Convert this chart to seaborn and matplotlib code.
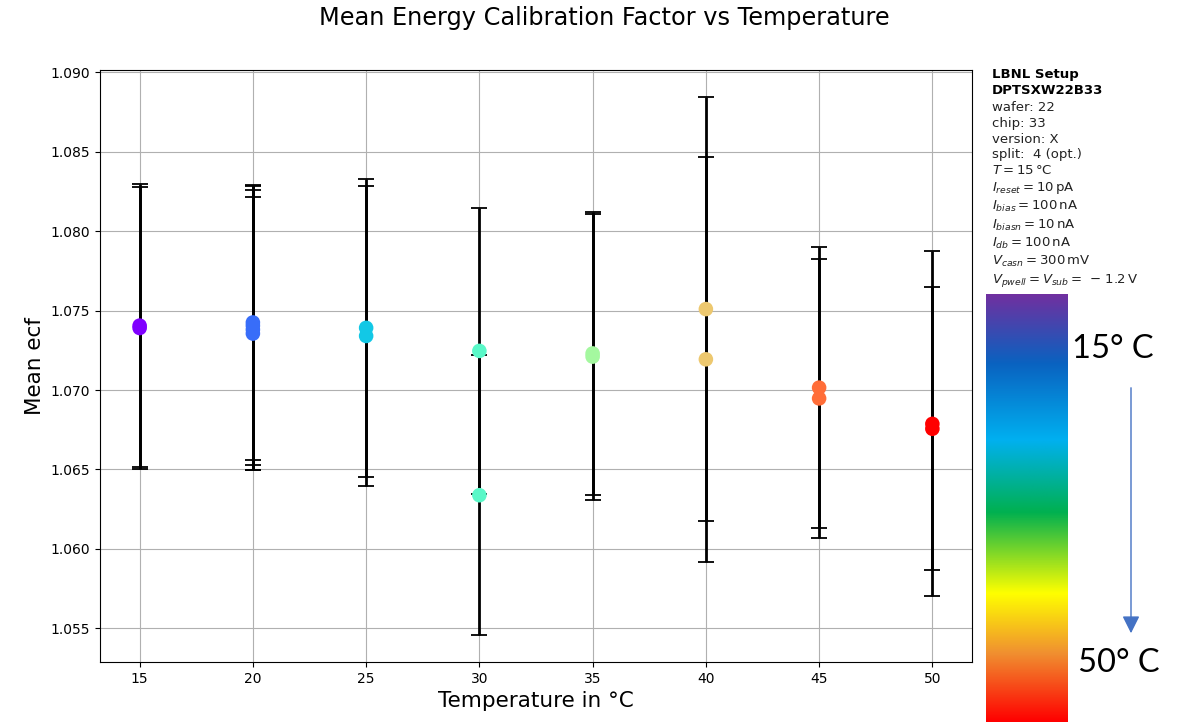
import numpy as np
import pandas as pd
import matplotlib
matplotlib.use("Agg")
import matplotlib.pyplot as plt
from matplotlib.colors import LinearSegmentedColormap
import seaborn as sns

# ---- data ----
temperatures = [15, 15, 20, 20, 20, 20, 25, 25, 30, 30, 35, 35, 40, 40, 45, 45, 50, 50]
mean_ecf = [1.07405, 1.0739, 1.07425, 1.07405, 1.0738, 1.07355, 1.07391, 1.0734,
            1.07246, 1.06338, 1.0723, 1.0721, 1.07509, 1.07193, 1.07015, 1.06947,
            1.06787, 1.06756]
ecf_err = [0.0089, 0.0089, 0.00864, 0.00878, 0.00881, 0.00857, 0.00937, 0.00942,
           0.0090, 0.0088, 0.0089, 0.0090, 0.01335, 0.01274, 0.00886, 0.00877,
           0.01085, 0.0089]
temp_levels = [15, 20, 25, 30, 35, 40, 45, 50]
xtick_labels = ["15", "20", "25", "30", "35", "40", "45", "50"]

info_bold = ["LBNL Setup", "DPTSXW22B33"]
info_lines = ["wafer: 22", "chip: 33", "version: X", "split:  4 (opt.)",
              r"$T=15\,\mathrm{°C}$",
              r"$I_{reset}=10\,\mathrm{pA}$",
              r"$I_{bias}=100\,\mathrm{nA}$",
              r"$I_{biasn}=10\,\mathrm{nA}$",
              r"$I_{db}=100\,\mathrm{nA}$",
              r"$V_{casn}=300\,\mathrm{mV}$",
              r"$V_{pwell}=V_{sub}=\,-\,1.2\,\mathrm{V}$"]

df = pd.DataFrame({"temperature": temperatures, "ecf": mean_ecf, "err": ecf_err})

sns.set_style("ticks")
plt.rcParams["font.family"] = ["DejaVu Sans"]
plt.rcParams["mathtext.fontset"] = "dejavusans"
plt.rcParams["text.color"] = "black"
plt.rcParams["axes.labelcolor"] = "black"

cmap = plt.get_cmap("rainbow")
palette = {t: cmap(i / (len(temp_levels) - 1)) for i, t in enumerate(temp_levels)}

fig = plt.figure(figsize=(11.83, 7.22), dpi=100)
ax = fig.add_axes([100 / 1183, 60 / 722, 872 / 1183, 592 / 722])

ax.errorbar(df["temperature"], df["ecf"], yerr=df["err"], fmt="none",
            ecolor="black", elinewidth=2, capsize=5.5, capthick=1.3, zorder=2)
sns.scatterplot(data=df, x="temperature", y="ecf", hue="temperature",
                palette=palette, s=110, edgecolor="none", legend=False,
                ax=ax, zorder=3)

ax.set_xticks(temp_levels)
ax.set_xticklabels(xtick_labels)
ax.set_yticks([1.055, 1.060, 1.065, 1.070, 1.075, 1.080, 1.085, 1.090])
ax.yaxis.set_major_formatter(matplotlib.ticker.FormatStrFormatter("%.3f"))
ax.tick_params(labelsize=10, length=3.5, width=0.8, direction="out",
               colors="black", labelcolor="black")
ax.grid(True, color="#b0b0b0", linewidth=0.8)
ax.set_axisbelow(True)
for sp in ax.spines.values():
    sp.set_visible(True)
    sp.set_color("black")
    sp.set_linewidth(0.8)
ax.set_xlabel("Temperature in °C", fontsize=15.5, color="black")
ax.set_ylabel("Mean ecf", fontsize=15.5, color="black")
ax.margins(x=0.05, y=0.05)

fig.text(604 / 1183, 1 - 18 / 722, "Mean Energy Calibration Factor vs Temperature",
         ha="center", va="center", fontsize=17.3, color="black")

fig.text(992 / 1183, 1 - 68 / 722, "\n".join(info_bold), ha="left", va="top",
         fontsize=9.5, fontweight="bold", linespacing=1.25, color="black")
fig.text(992 / 1183, 1 - 101 / 722, "\n".join(info_lines), ha="left", va="top",
         fontsize=9.5, linespacing=1.28, color="#222222")

# temperature colour scale (pasted gradient)
grad_cmap = LinearSegmentedColormap.from_list(
    "grad", [(0.0, "#7030a0"), (0.16, "#0a62c0"), (0.34, "#00b0f0"),
             (0.51, "#00b050"), (0.70, "#ffff00"), (0.84, "#f09030"),
             (1.0, "#ff0000")])
cax = fig.add_axes([986 / 1183, 0, 82 / 1183, 428 / 722])
cax.imshow(np.linspace(0, 1, 256).reshape(-1, 1), cmap=grad_cmap, aspect="auto")
cax.axis("off")

fig.text(1072 / 1183, 1 - 349 / 722, "15° C", ha="left", va="center",
         fontsize=23.5, family=["Lato", "DejaVu Sans"], color="black")
fig.text(1078 / 1183, 1 - 663 / 722, "50° C", ha="left", va="center",
         fontsize=23.5, family=["Lato", "DejaVu Sans"], color="black")
fig.patches.append(matplotlib.patches.FancyArrowPatch(
    (1131 / 1183, 1 - 385 / 722), (1131 / 1183, 1 - 636 / 722),
    transform=fig.transFigure, arrowstyle="-|>,head_length=7,head_width=3.5",
    color="#4472c4", linewidth=1, mutation_scale=1.5))

fig.savefig("out.png", dpi=100)
